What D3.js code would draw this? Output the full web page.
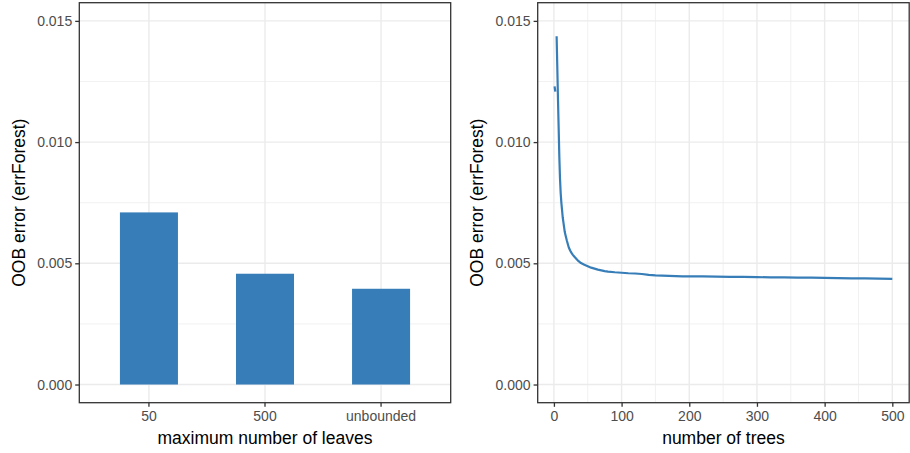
<!DOCTYPE html>
<html>
<head>
<meta charset="utf-8">
<script src="https://cdn.jsdelivr.net/npm/d3@7"></script>
<style>
  body { margin: 0; background: #fff; }
  svg { display: block; }
  text { font-family: "Liberation Sans", Arial, Helvetica, sans-serif; }
</style>
</head>
<body>
<svg id="chart" width="910" height="453"></svg>
<script>
// Bar panel: OOB error by leaf limit
const leafCategories = ["50", "500", "unbounded"];
const leafErrors = [0.00710, 0.00457, 0.00395];

// Line panel: OOB error as the forest grows (null = not available)
const treeCounts = [1, 2, 3, 4, 5, 6, 7, 8, 9, 10, 11, 12, 13, 14, 15, 16, 17, 18, 19, 20,
  22, 24, 26, 28, 30, 33, 36, 40, 45, 50, 55, 60, 65, 70, 75, 80, 90, 100, 110, 120,
  130, 140, 150, 160, 170, 180, 190, 200, 220, 240, 260, 280, 300, 320, 340, 360, 380,
  400, 420, 440, 460, 480, 500];
const treeErrors = [0.01230, 0.01208, null, 0.01437, 0.0131, 0.0118, 0.0106, 0.0094, 0.0085, 0.0079,
  0.0075, 0.0072, 0.0069, 0.0067, 0.0065, 0.0063, 0.00618, 0.00606, 0.00595, 0.00585,
  0.00565, 0.00553, 0.00543, 0.00535, 0.00528, 0.00519, 0.00510, 0.00501, 0.00494, 0.00488,
  0.00482, 0.00478, 0.00474, 0.00471, 0.00468, 0.00466, 0.00463, 0.00461, 0.00459, 0.00458,
  0.00456, 0.00452, 0.00450, 0.00449, 0.00448, 0.00447, 0.00446, 0.00446, 0.00446, 0.00445,
  0.00444, 0.00444, 0.00443, 0.00442, 0.00442, 0.00441, 0.00441, 0.00440, 0.00439, 0.00438,
  0.00438, 0.00437, 0.00436];

const yTicks = [0, 0.005, 0.010, 0.015];
const yMinor = [0.0025, 0.0075, 0.0125];
const xTreeTicks = [0, 100, 200, 300, 400, 500];
const xTreeMinor = [50, 150, 250, 350, 450];

const BLUE = "#377EB8";
const GRID = "#EBEBEB";
const BORDER = "#333333";
const TICK_TEXT = "#4D4D4D";
const TICK_SIZE = 14;
const TITLE_SIZE = 17.5;

const svg = d3.select("#chart");

// ggplot-style 5% expansion of a continuous range
function expand(lo, hi) {
  const d = (hi - lo) * 0.05;
  return [lo - d, hi + d];
}

const panelTop = 2.7, panelBottom = 402.7;
const yDomain = expand(0, 0.015);

function drawPanel(opts) {
  const { left, right, yTitle, xTitle, yTitleX } = opts;
  const y = d3.scaleLinear().domain(yDomain).range([panelBottom, panelTop]);
  const g = svg.append("g");

  // grid
  const grid = g.append("g");
  yMinor.forEach(v => grid.append("line")
    .attr("x1", left).attr("x2", right).attr("y1", y(v)).attr("y2", y(v))
    .attr("stroke", GRID).attr("stroke-width", 0.7));
  (opts.xMinor || []).forEach(v => grid.append("line")
    .attr("x1", opts.x(v)).attr("x2", opts.x(v)).attr("y1", panelTop).attr("y2", panelBottom)
    .attr("stroke", GRID).attr("stroke-width", 0.7));
  yTicks.forEach(v => grid.append("line")
    .attr("x1", left).attr("x2", right).attr("y1", y(v)).attr("y2", y(v))
    .attr("stroke", GRID).attr("stroke-width", 1.4));
  opts.xMajor.forEach(v => grid.append("line")
    .attr("x1", v).attr("x2", v).attr("y1", panelTop).attr("y2", panelBottom)
    .attr("stroke", GRID).attr("stroke-width", 1.4));

  opts.drawMarks(g, y);

  // border
  g.append("rect").attr("x", left).attr("y", panelTop)
    .attr("width", right - left).attr("height", panelBottom - panelTop)
    .attr("fill", "none").attr("stroke", BORDER).attr("stroke-width", 1.3);

  // y axis
  const yAxis = g.append("g").attr("transform", `translate(${left},0)`)
    .call(d3.axisLeft(y).tickValues(yTicks).tickFormat(d3.format(".3f")).tickSize(4.1).tickPadding(3));
  yAxis.select(".domain").remove();
  yAxis.selectAll("line").attr("stroke", BORDER).attr("stroke-width", 1.3);
  yAxis.selectAll("text").attr("fill", TICK_TEXT).attr("font-size", TICK_SIZE)
    .attr("font-family", "Liberation Sans, Arial, sans-serif");

  // x axis
  const xAxis = g.append("g").attr("transform", `translate(0,${panelBottom})`)
    .call(opts.xAxis.tickSize(4.1).tickPadding(4));
  xAxis.select(".domain").remove();
  xAxis.selectAll("line").attr("stroke", BORDER).attr("stroke-width", 1.3);
  xAxis.selectAll("text").attr("fill", TICK_TEXT).attr("font-size", TICK_SIZE)
    .attr("font-family", "Liberation Sans, Arial, sans-serif");

  // titles
  g.append("text").attr("x", (left + right) / 2).attr("y", 443.5)
    .attr("text-anchor", "middle").attr("font-size", TITLE_SIZE).attr("fill", "#000")
    .text(xTitle);
  g.append("text")
    .attr("transform", `translate(${yTitleX},${(panelTop + panelBottom) / 2}) rotate(-90)`)
    .attr("text-anchor", "middle").attr("font-size", TITLE_SIZE).attr("fill", "#000")
    .text(yTitle);
}

// Left: bars
(function () {
  const left = 79.3, right = 450.7;
  const x = d3.scaleBand().domain(leafCategories).range([left, right])
    .paddingInner(0.5).paddingOuter(0.35);
  drawPanel({
    left, right,
    yTitle: "OOB error (errForest)",
    xTitle: "maximum number of leaves",
    yTitleX: 25,
    xMajor: leafCategories.map(c => x(c) + x.bandwidth() / 2),
    xAxis: d3.axisBottom(x),
    drawMarks: (g, y) => {
      g.append("g").selectAll("rect").data(leafCategories).join("rect")
        .attr("x", d => x(d))
        .attr("width", x.bandwidth())
        .attr("y", (d, i) => y(leafErrors[i]))
        .attr("height", (d, i) => y(0) - y(leafErrors[i]))
        .attr("fill", BLUE);
    }
  });
})();

// Right: line
(function () {
  const left = 537.7, right = 909.2;
  const x = d3.scaleLinear().domain(expand(1, 500)).range([left, right]);
  const pts = treeCounts.map((t, i) => ({ t, e: treeErrors[i] }));
  drawPanel({
    left, right,
    yTitle: "OOB error (errForest)",
    xTitle: "number of trees",
    yTitleX: 482.5,
    x,
    xMinor: xTreeMinor,
    xMajor: xTreeTicks.map(x),
    xAxis: d3.axisBottom(x).tickValues(xTreeTicks).tickFormat(d3.format("d")),
    drawMarks: (g, y) => {
      const line = d3.line()
        .defined(d => d.e !== null)
        .x(d => x(d.t)).y(d => y(d.e));
      g.append("path").datum(pts)
        .attr("d", line)
        .attr("fill", "none").attr("stroke", BLUE)
        .attr("stroke-width", 2.2).attr("stroke-linejoin", "round");
    }
  });
})();
</script>
</body>
</html>
